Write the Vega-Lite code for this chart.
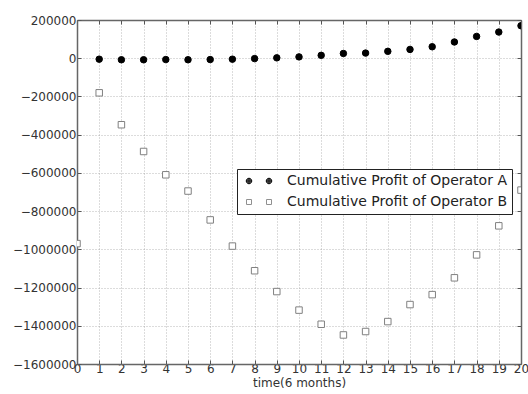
{
  "$schema": "https://vega.github.io/schema/vega-lite/v6.json",
  "width": 444,
  "height": 344,
  "autosize": {"type": "none"},
  "padding": {"left": 77, "top": 20, "right": 7, "bottom": 30},
  "background": "white",
  "config": {
    "font": "DejaVu Sans",
    "view": {"stroke": null},
    "axis": {
      "domainColor": "#666666",
      "domainWidth": 1.5,
      "tickColor": "#555555",
      "tickSize": -4,
      "labelFont": "DejaVu Sans",
      "labelFontSize": 12,
      "labelColor": "#333333",
      "labelOverlap": false,
      "labelFlush": false,
      "gridColor": "#888888",
      "gridDash": [1, 2],
      "gridOpacity": 0.6,
      "gridWidth": 1,
      "titleFont": "DejaVu Sans",
      "titleFontSize": 12,
      "titleFontWeight": "normal",
      "titleColor": "#333333"
    }
  },
  "data": {
    "values": [
      {"t": 1, "profit": -5000, "op": "Cumulative Profit of Operator A"},
      {"t": 2, "profit": -8000, "op": "Cumulative Profit of Operator A"},
      {"t": 3, "profit": -8000, "op": "Cumulative Profit of Operator A"},
      {"t": 4, "profit": -7000, "op": "Cumulative Profit of Operator A"},
      {"t": 5, "profit": -8000, "op": "Cumulative Profit of Operator A"},
      {"t": 6, "profit": -7000, "op": "Cumulative Profit of Operator A"},
      {"t": 7, "profit": -5000, "op": "Cumulative Profit of Operator A"},
      {"t": 8, "profit": -2000, "op": "Cumulative Profit of Operator A"},
      {"t": 9, "profit": 2000, "op": "Cumulative Profit of Operator A"},
      {"t": 10, "profit": 7000, "op": "Cumulative Profit of Operator A"},
      {"t": 11, "profit": 15000, "op": "Cumulative Profit of Operator A"},
      {"t": 12, "profit": 25000, "op": "Cumulative Profit of Operator A"},
      {"t": 13, "profit": 27000, "op": "Cumulative Profit of Operator A"},
      {"t": 14, "profit": 36000, "op": "Cumulative Profit of Operator A"},
      {"t": 15, "profit": 46000, "op": "Cumulative Profit of Operator A"},
      {"t": 16, "profit": 60000, "op": "Cumulative Profit of Operator A"},
      {"t": 17, "profit": 85000, "op": "Cumulative Profit of Operator A"},
      {"t": 18, "profit": 114000, "op": "Cumulative Profit of Operator A"},
      {"t": 19, "profit": 137000, "op": "Cumulative Profit of Operator A"},
      {"t": 20, "profit": 170000, "op": "Cumulative Profit of Operator A"},
      {"t": 0, "profit": -970000, "op": "Cumulative Profit of Operator B"},
      {"t": 1, "profit": -181000, "op": "Cumulative Profit of Operator B"},
      {"t": 2, "profit": -348000, "op": "Cumulative Profit of Operator B"},
      {"t": 3, "profit": -488000, "op": "Cumulative Profit of Operator B"},
      {"t": 4, "profit": -610000, "op": "Cumulative Profit of Operator B"},
      {"t": 5, "profit": -695000, "op": "Cumulative Profit of Operator B"},
      {"t": 6, "profit": -846000, "op": "Cumulative Profit of Operator B"},
      {"t": 7, "profit": -983000, "op": "Cumulative Profit of Operator B"},
      {"t": 8, "profit": -1112000, "op": "Cumulative Profit of Operator B"},
      {"t": 9, "profit": -1221000, "op": "Cumulative Profit of Operator B"},
      {"t": 10, "profit": -1318000, "op": "Cumulative Profit of Operator B"},
      {"t": 11, "profit": -1392000, "op": "Cumulative Profit of Operator B"},
      {"t": 12, "profit": -1448000, "op": "Cumulative Profit of Operator B"},
      {"t": 13, "profit": -1430000, "op": "Cumulative Profit of Operator B"},
      {"t": 14, "profit": -1378000, "op": "Cumulative Profit of Operator B"},
      {"t": 15, "profit": -1289000, "op": "Cumulative Profit of Operator B"},
      {"t": 16, "profit": -1237000, "op": "Cumulative Profit of Operator B"},
      {"t": 17, "profit": -1149000, "op": "Cumulative Profit of Operator B"},
      {"t": 18, "profit": -1029000, "op": "Cumulative Profit of Operator B"},
      {"t": 19, "profit": -877000, "op": "Cumulative Profit of Operator B"},
      {"t": 20, "profit": -690000, "op": "Cumulative Profit of Operator B"}
    ]
  },
  "resolve": {"axis": {"x": "independent", "y": "independent"}},
  "layer": [
    {
      "mark": {"type": "point", "filled": true, "clip": true, "opacity": 0, "strokeWidth": 1},
      "encoding": {
        "x": {
          "field": "t",
          "type": "quantitative",
          "scale": {"domain": [0, 20], "nice": false, "zero": false},
          "axis": {
            "orient": "bottom",
            "values": [0,1,2,3,4,5,6,7,8,9,10,11,12,13,14,15,16,17,18,19,20],
            "title": "time(6 months)",
            "titlePadding": 3,
            "labelPadding": 3,
            "grid": true
          }
        },
        "y": {
          "field": "profit",
          "type": "quantitative",
          "scale": {"domain": [-1600000, 200000], "nice": false, "zero": false},
          "axis": {
            "orient": "left",
            "format": "d",
            "values": [-1600000,-1400000,-1200000,-1000000,-800000,-600000,-400000,-200000,0,200000],
            "title": null,
            "labelPadding": 5,
            "grid": true
          }
        },
        "fill": {
          "field": "op",
          "type": "nominal",
          "scale": {"domain": ["Cumulative Profit of Operator A", "Cumulative Profit of Operator B"], "range": ["#000000", "#ffffff"]},
          "legend": {
            "title": null,
            "orient": "none",
            "legendX": 160,
            "legendY": 149,
            "padding": 5,
            "strokeColor": "#222222",
            "fillColor": "white",
            "labelFont": "DejaVu Sans",
            "labelFontSize": 14,
            "labelColor": "#222222",
            "labelLimit": 400,
            "labelOffset": 31,
            "rowPadding": 7,
            "symbolSize": 100,
            "symbolStrokeWidth": 1,
            "symbolOpacity": 1,
            "symbolStrokeColor": "#000000"
          }
        },
        "shape": {
          "field": "op",
          "type": "nominal",
          "scale": {
            "domain": ["Cumulative Profit of Operator A", "Cumulative Profit of Operator B"],
            "range": [
              "M-0.55,0a0.55,0.55 0 1,0 1.1,0a0.55,0.55 0 1,0 -1.1,0ZM-0.4,0a0.4,0.4 0 1,0 0.8,0a0.4,0.4 0 1,0 -0.8,0ZM-0.25,0a0.25,0.25 0 1,0 0.5,0a0.25,0.25 0 1,0 -0.5,0ZM-0.1,0a0.1,0.1 0 1,0 0.2,0a0.1,0.1 0 1,0 -0.2,0ZM3.45,0a0.55,0.55 0 1,0 1.1,0a0.55,0.55 0 1,0 -1.1,0ZM3.6,0a0.4,0.4 0 1,0 0.8,0a0.4,0.4 0 1,0 -0.8,0ZM3.75,0a0.25,0.25 0 1,0 0.5,0a0.25,0.25 0 1,0 -0.5,0ZM3.9,0a0.1,0.1 0 1,0 0.2,0a0.1,0.1 0 1,0 -0.2,0Z",
              "M-0.5,-0.5h1v1h-1ZM3.5,-0.5h1v1h-1Z"
            ]
          }
        },
        "stroke": {
          "field": "op",
          "type": "nominal",
          "scale": {"domain": ["Cumulative Profit of Operator A", "Cumulative Profit of Operator B"], "range": ["#000000", "#909090"]}
        }
      }
    },
    {
      "mark": {"type": "point", "clip": true, "opacity": 1, "strokeWidth": 1, "size": 42},
      "encoding": {
        "x": {"field": "t", "type": "quantitative", "axis": null},
        "y": {"field": "profit", "type": "quantitative", "axis": null},
        "shape": {
          "condition": {"test": "datum.op === 'Cumulative Profit of Operator A'", "value": "circle"},
          "value": "square"
        },
        "fill": {
          "condition": {"test": "datum.op === 'Cumulative Profit of Operator A'", "value": "#000000"},
          "value": "#ffffff"
        },
        "stroke": {
          "condition": {"test": "datum.op === 'Cumulative Profit of Operator A'", "value": "#000000"},
          "value": "#808080"
        }
      }
    },
    {
      "mark": {"type": "point", "opacity": 0},
      "encoding": {
        "x": {
          "field": "t",
          "type": "quantitative",
          "axis": {
            "orient": "top",
            "values": [0,1,2,3,4,5,6,7,8,9,10,11,12,13,14,15,16,17,18,19,20],
            "labels": false,
            "title": null,
            "grid": false
          }
        },
        "y": {
          "field": "profit",
          "type": "quantitative",
          "axis": {
            "orient": "right",
            "values": [-1600000,-1400000,-1200000,-1000000,-800000,-600000,-400000,-200000,0,200000],
            "labels": false,
            "title": null,
            "grid": false
          }
        }
      }
    }
  ]
}
